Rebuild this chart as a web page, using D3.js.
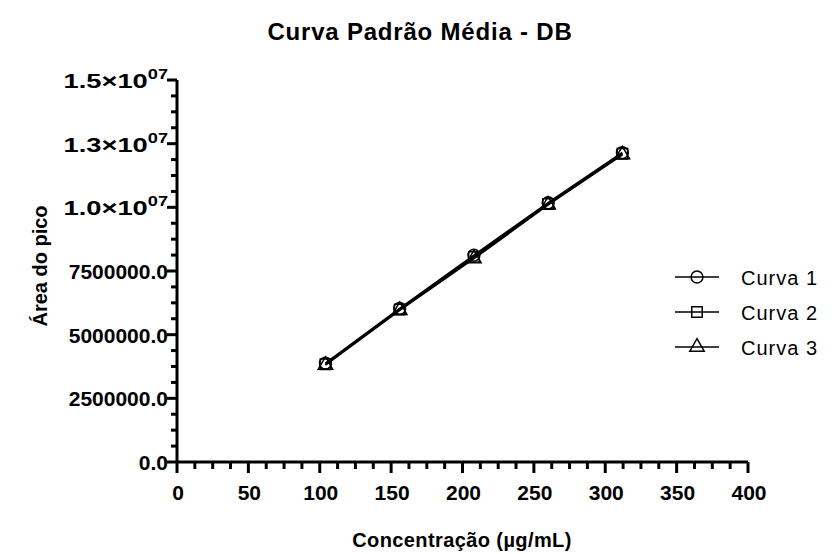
<!DOCTYPE html>
<html>
<head>
<meta charset="utf-8">
<script src="https://cdn.jsdelivr.net/npm/d3@7"></script>
<style>
body{margin:0;background:#fff;}
text{font-family:'Liberation Sans',Arial,sans-serif;}
</style>
</head>
<body>
<svg id="chart" width="839" height="554"></svg>
<script>
//data
var concentrations = [104, 156, 208, 260, 312];
var curva1 = [3880000, 6030000, 8120000, 10180000, 12150000];
var curva2 = [3840000, 5990000, 8050000, 10130000, 12100000];
var curva3 = [3810000, 5960000, 7990000, 10100000, 12070000];
var seriesNames = ['Curva 1', 'Curva 2', 'Curva 3'];
var yTickValues = [0, 2500000, 5000000, 7500000, 10000000, 12500000, 15000000];
var yTickLabels = ['0.0', '2500000.0', '5000000.0', '7500000.0', ['1.0', '07'], ['1.3', '07'], ['1.5', '07']];
var xTickValues = [0, 50, 100, 150, 200, 250, 300, 350, 400];

var series = [
	{name: seriesNames[0], values: curva1, symbol: 'circle'},
	{name: seriesNames[1], values: curva2, symbol: 'square'},
	{name: seriesNames[2], values: curva3, symbol: 'triangle'}
];

var svg = d3.select('#chart');

var x = d3.scaleLinear().domain([0, 400]).range([177, 748]);
var y = d3.scaleLinear().domain([0, 15000000]).range([462, 80]);

//title
svg.append('text')
	.attr('x', 420).attr('y', 40)
	.attr('text-anchor', 'middle')
	.style('font-size', '24px').style('font-weight', 'bold')
	.style('letter-spacing', '0.8px')
	.text('Curva Padrão Média - DB');

//x axis
var xAxis = svg.append('g');
xAxis.append('line')
	.attr('x1', x(0)).attr('x2', x(400))
	.attr('y1', y(0)).attr('y2', y(0))
	.attr('stroke', '#000').attr('stroke-width', 3);

xAxis.selectAll('.xminor').data(d3.range(0, 400.1, 12.5))
	.enter().append('line')
	.attr('x1', function(d){ return x(d)}).attr('x2', function(d){ return x(d)})
	.attr('y1', y(0)).attr('y2', function(d){ return y(0) + (d % 50 == 0 ? 11 : 7)})
	.attr('stroke', '#000').attr('stroke-width', 3);

xAxis.selectAll('.xlabel').data(xTickValues)
	.enter().append('text')
	.attr('x', function(d){ return x(d) + 1}).attr('y', 500)
	.attr('text-anchor', 'middle')
	.style('font-size', '21px').style('font-weight', 'bold')
	.text(function(d){ return d});

//y axis
var yAxis = svg.append('g');
yAxis.append('line')
	.attr('x1', x(0)).attr('x2', x(0))
	.attr('y1', y(0)).attr('y2', y(15000000))
	.attr('stroke', '#000').attr('stroke-width', 3);

yAxis.selectAll('.yminor').data(d3.range(0, 15000001, 625000))
	.enter().append('line')
	.attr('y1', function(d){ return y(d)}).attr('y2', function(d){ return y(d)})
	.attr('x1', x(0)).attr('x2', function(d){ return x(0) - (d % 2500000 == 0 ? 10 : 6)})
	.attr('stroke', '#000').attr('stroke-width', 3);

// exponent labels look wider in the original, so stretch them a bit
var yLabels = yAxis.selectAll('.ylabel').data(yTickValues)
	.enter().append('text')
	.attr('transform', function(d, i){
		var sx = typeof yTickLabels[i] == 'string' ? 1 : 1.3;
		return 'translate(' + (x(0) - 9) + ',' + (y(d) + 8) + ') scale(' + sx + ',1)';
	})
	.attr('text-anchor', 'end')
	.style('font-size', '21px').style('font-weight', 'bold');

yLabels.each(function(d, i){
	var lab = yTickLabels[i];
	var t = d3.select(this);
	if (typeof lab == 'string') {
		t.text(lab);
	} else {
		t.append('tspan').text(lab[0] + '\u00d7' + '10');
		t.append('tspan').attr('dy', -9).style('font-size', '14px').text(lab[1]);
	}
});

svg.append('text')
	.attr('transform', 'translate(47,266) rotate(-90)')
	.attr('text-anchor', 'middle')
	.style('font-size', '20px').style('font-weight', 'bold')
	.text('Área do pico');

svg.append('text')
	.attr('x', 462).attr('y', 547)
	.attr('text-anchor', 'middle')
	.style('font-size', '20px').style('font-weight', 'bold')
	.style('letter-spacing', '0.4px')
	.text('Concentração (µg/mL)');

//lines and markers
var line = d3.line()
	.x(function(d, i){ return x(concentrations[i])})
	.y(function(d){ return y(d)});

function symbolPath(s, size) {
	var type = s == 'circle' ? d3.symbolCircle : (s == 'square' ? d3.symbolSquare : d3.symbolTriangle);
	return d3.symbol().type(type).size(size)();
}

var plot = svg.append('g');
series.forEach(function(s){
	plot.append('path')
		.datum(s.values)
		.attr('d', line)
		.attr('fill', 'none')
		.attr('stroke', '#000')
		.attr('stroke-width', 2);
});

series.forEach(function(s){
	plot.selectAll('.m-' + s.symbol).data(s.values)
		.enter().append('path')
		.attr('transform', function(d, i){ return 'translate(' + x(concentrations[i]) + ',' + y(d) + ')'})
		.attr('d', symbolPath(s.symbol, s.symbol == 'triangle' ? 90 : 110))
		.attr('fill', 'none')
		.attr('stroke', '#000')
		.attr('stroke-width', 1.5);
});

//legend
var legend = svg.append('g').attr('transform', 'translate(675,277)');
var items = legend.selectAll('g').data(series)
	.enter().append('g')
	.attr('transform', function(d, i){ return 'translate(0,' + i * 35 + ')'});

items.append('line')
	.attr('x1', 0).attr('x2', 44)
	.attr('stroke', '#000').attr('stroke-width', 1.5);

items.append('path')
	.attr('transform', 'translate(22,0)')
	.attr('d', function(d){ return symbolPath(d.symbol, d.symbol == 'triangle' ? 90 : 110)})
	.attr('fill', 'none')
	.attr('stroke', '#000')
	.attr('stroke-width', 1.5);

items.append('text')
	.attr('x', 66).attr('y', 8)
	.style('font-size', '20px')
	.style('letter-spacing', '1px')
	.text(function(d){ return d.name});
</script>
</body>
</html>
